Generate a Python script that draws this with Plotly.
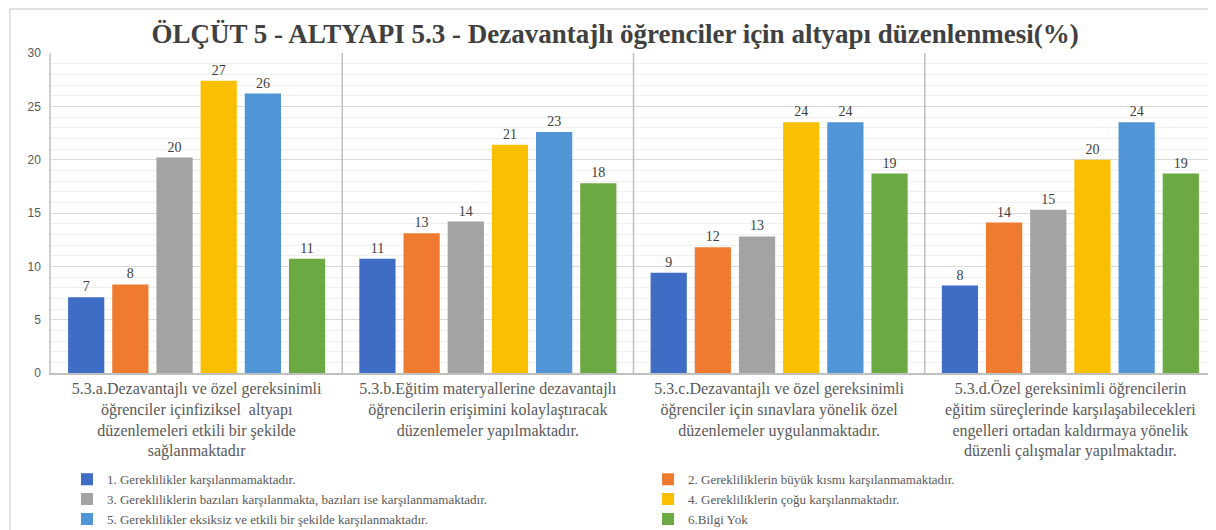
import plotly.graph_objects as go

categories = [
    "5.3.a.Dezavantajlı ve özel gereksinimli<br>öğrenciler içinfiziksel  altyapı<br>düzenlemeleri etkili bir şekilde<br>sağlanmaktadır",
    "5.3.b.Eğitim materyallerine dezavantajlı<br>öğrencilerin erişimini kolaylaştıracak<br>düzenlemeler yapılmaktadır.",
    "5.3.c.Dezavantajlı ve özel gereksinimli<br>öğrenciler için sınavlara yönelik özel<br>düzenlemeler uygulanmaktadır.",
    "5.3.d.Özel gereksinimli öğrencilerin<br>eğitim süreçlerinde karşılaşabilecekleri<br>engelleri ortadan kaldırmaya yönelik<br>düzenli çalışmalar yapılmaktadır.",
]

series_names = [
    "1. Gereklilikler karşılanmamaktadır.",
    "2. Gerekliliklerin büyük kısmı karşılanmamaktadır.",
    "3. Gerekliliklerin bazıları karşılanmakta, bazıları ise karşılanmamaktadır.",
    "4. Gerekliliklerin çoğu karşılanmaktadır.",
    "5. Gereklilikler eksiksiz ve etkili bir şekilde karşılanmaktadır.",
    "6.Bilgi Yok",
]

s1 = [7.1, 10.7, 9.4, 8.2]
s2 = [8.3, 13.1, 11.8, 14.1]
s3 = [20.2, 14.2, 12.8, 15.3]
s4 = [27.4, 21.4, 23.5, 20.0]
s5 = [26.2, 22.6, 23.5, 23.5]
s6 = [10.7, 17.8, 18.7, 18.7]

series_values = [s1, s2, s3, s4, s5, s6]
colors = ["#3F6CC4", "#EE7B30", "#A3A3A3", "#F9BF00", "#5096D6", "#6BAA43"]
legend_ids = ["legend", "legend2", "legend", "legend2", "legend", "legend2"]

title_text = "ÖLÇÜT 5 - ALTYAPI 5.3 - Dezavantajlı öğrenciler için altyapı düzenlenmesi(%)"

SERIF = "Liberation Serif, Times New Roman, serif"

fig = go.Figure()
for name, vals, col, lg in zip(series_names, series_values, colors, legend_ids):
    fig.add_trace(go.Bar(
        x=categories, y=vals, name=name, legend=lg,
        marker=dict(color=col, line=dict(width=0)),
        text=vals, texttemplate="%{y:.0f}", textposition="outside",
        textfont=dict(family=SERIF, size=14, color="#404040"),
        cliponaxis=False,
    ))

shapes = []
for xb in [0.5, 1.5, 2.5]:
    shapes.append(dict(type="line", xref="x", yref="paper", x0=xb, x1=xb, y0=0, y1=1,
                       line=dict(color="#BFBFBF", width=1.5)))
# outer chart border
shapes.append(dict(type="line", xref="paper", yref="paper", x0=-0.0352, x1=1.05, y0=1.1375, y1=1.1375,
                   line=dict(color="#D9D9D9", width=1.5)))
shapes.append(dict(type="line", xref="paper", yref="paper", x0=-0.0352, x1=-0.0352, y0=1.1375, y1=-0.6,
                   line=dict(color="#D9D9D9", width=1.5)))

legend_common = dict(
    orientation="v", yanchor="top", xanchor="left",
    font=dict(family=SERIF, size=13, color="#595959"),
    itemwidth=30, tracegroupgap=0, bgcolor="rgba(0,0,0,0)",
)

fig.update_layout(
    width=1208, height=522,
    margin=dict(l=43, r=0, t=45, b=157, autoexpand=False),
    paper_bgcolor="white", plot_bgcolor="white",
    barmode="group", bargap=0.09, bargroupgap=0.18,
    title=dict(text="<b>" + title_text + "</b>", x=0.5025, xanchor="center", xref="container",
               y=0.952, yanchor="middle", yref="container",
               font=dict(family=SERIF, size=27, color="#404040")),
    xaxis=dict(
        showline=True, linecolor="#BFBFBF", linewidth=1.5,
        tickfont=dict(family=SERIF, size=16, color="#595959"),
        ticks="", showgrid=False, automargin=False,
    ),
    yaxis=dict(
        range=[0, 30], dtick=5, showline=True, linecolor="#D0D0D0", linewidth=1.5,
        gridcolor="#D9D9D9", gridwidth=1,
        minor=dict(dtick=1, showgrid=True, gridcolor="#F0F0F0", gridwidth=1),
        tickfont=dict(family="Liberation Sans", size=12, color="#595959"),
        ticks="", ticklabelstandoff=6, zeroline=False, automargin=False,
    ),
    legend=dict(x=0.0137, y=-0.285, **legend_common),
    legend2=dict(x=0.5125, y=-0.285, **legend_common),
    shapes=shapes,
)

fig.write_html("out.html")
